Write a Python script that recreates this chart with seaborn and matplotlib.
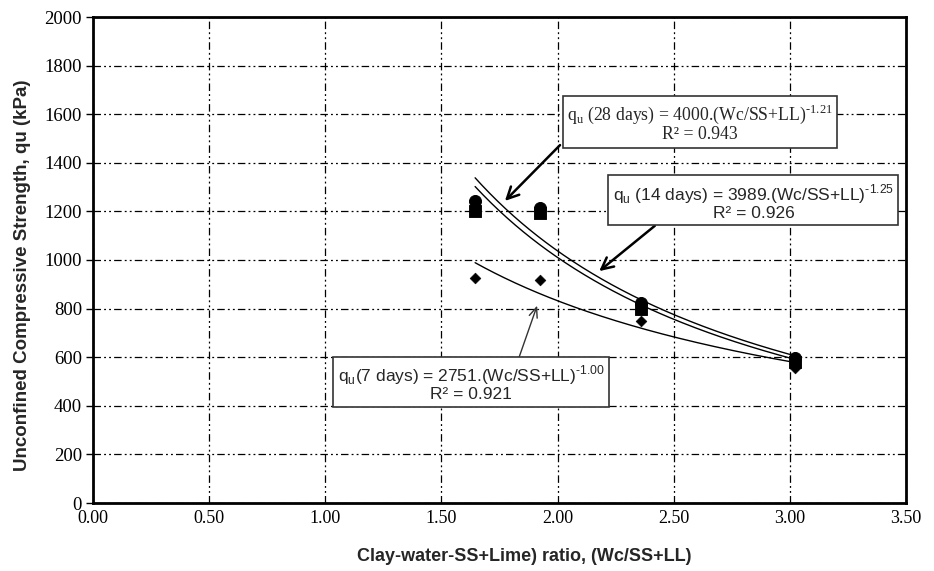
import numpy as np
import pandas as pd
import matplotlib
matplotlib.use("Agg")
import matplotlib.pyplot as plt
import seaborn as sns

# ---- data ----
x_ratio = [1.645, 1.925, 2.36, 3.02]
qu_28 = [1243, 1215, 823, 595]
qu_14 = [1202, 1195, 800, 580]
qu_7 = [927, 918, 750, 555]

x_ticks = [0.00, 0.50, 1.00, 1.50, 2.00, 2.50, 3.00, 3.50]
y_ticks = [0, 200, 400, 600, 800, 1000, 1200, 1400, 1600, 1800, 2000]

H = "\u2010"  # hyphen, as in the reference exponents
eq_28 = r"q$_\mathregular{u}$ (28 days) = 4000.(Wc/SS+LL)$^\mathregular{" + H + "1.21}$" + "\nR² = 0.943"
eq_14 = r"q$_\mathregular{u}$ (14 days) = 3989.(Wc/SS+LL)$^\mathregular{" + H + "1.25}$" + "\nR² = 0.926"
eq_7 = r"q$_\mathregular{u}$(7 days) = 2751.(Wc/SS+LL)$^\mathregular{" + H + "1.00}$" + "\nR² = 0.921"

sns.set_theme(style="white")
plt.rcParams['font.family'] = ['Liberation Sans', 'DejaVu Sans']

fig = plt.figure(figsize=(9.34, 5.71), dpi=100)
ax = fig.add_axes([93/934, 1-503/571, (906-93)/934, (503-17)/571])

df = pd.DataFrame({
    "x": x_ratio * 3,
    "q": qu_28 + qu_14 + qu_7,
    "age": ["28"] * 4 + ["14"] * 4 + ["7"] * 4,
})

markers = {"28": "o", "14": "s", "7": "D"}
sizes = {"28": 75, "14": 65, "7": 30}
for age in ["28", "14", "7"]:
    sub = df[df.age == age]
    sns.scatterplot(data=sub, x="x", y="q", marker=markers[age], s=sizes[age],
                    color="black", edgecolor="black", ax=ax, zorder=4, legend=False)

# power-law trend lines (least squares in log space, like a spreadsheet trendline)
xs = np.linspace(min(x_ratio), max(x_ratio), 200)
for vals in [qu_28, qu_14, qu_7]:
    b, lna = np.polyfit(np.log(x_ratio), np.log(vals), 1)
    sns.lineplot(x=xs, y=np.exp(lna) * xs ** b, color="black", lw=1.0, ax=ax, zorder=3)

ax.set_xlim(0, 3.5)
ax.set_ylim(0, 2000)
ax.set_xticks(x_ticks)
ax.set_xticklabels([f"{v:.2f}" for v in x_ticks], family="Liberation Serif", fontsize=13)
ax.set_yticks(y_ticks)
ax.set_yticklabels([str(v) for v in y_ticks], family="Liberation Serif", fontsize=13.5)

ax.grid(True, color="black", lw=0.9, linestyle=(0, (6, 2.5, 1.5, 2.5, 1.5, 2.5)))
ax.set_axisbelow(True)
for s in ax.spines.values():
    s.set_visible(True)
    s.set_color("black")
    s.set_linewidth(2.0)
ax.tick_params(axis="y", which="major", direction="out", length=5, width=1, left=True, colors="black", pad=3)
ax.tick_params(axis="x", which="major", length=0, pad=5, colors="black")

ax.set_xlabel("Clay-water-SS+Lime) ratio, (Wc/SS+LL)", fontsize=13, fontweight="bold")
ax.xaxis.set_label_coords(0.531, -0.093)
ax.set_ylabel("Unconfined Compressive Strength, qu (kPa)", fontsize=13.5, fontweight="bold")
ax.yaxis.set_label_coords(-0.076, 0.469)

box = dict(boxstyle="square,pad=0.25", fc="white", ec="#333333", lw=1.2)
ax.text(2.613, 1564, eq_28, ha="center", va="center", fontsize=12.8, family="Liberation Serif",
        bbox=box, zorder=6, linespacing=1.0)
ax.text(2.843, 1241, eq_14, ha="center", va="center", fontsize=12.5, family="Liberation Sans",
        bbox=box, zorder=6, linespacing=1.0)
ax.text(1.627, 494, eq_7, ha="center", va="center", fontsize=12.5, family="Liberation Sans",
        bbox=box, zorder=6, linespacing=1.0)

ax.annotate("", xy=(1.765, 1235), xytext=(2.019, 1481),
            arrowprops=dict(arrowstyle="->,head_length=0.7,head_width=0.35", color="black", lw=1.8), zorder=5)
ax.annotate("", xy=(2.170, 947), xytext=(2.428, 1148),
            arrowprops=dict(arrowstyle="->,head_length=0.7,head_width=0.35", color="black", lw=1.8), zorder=5)
ax.annotate("", xy=(1.916, 823), xytext=(1.830, 588),
            arrowprops=dict(arrowstyle="->,head_length=0.6,head_width=0.25", color="#333333", lw=1.0), zorder=5)

fig.savefig("out.png", dpi=100)
